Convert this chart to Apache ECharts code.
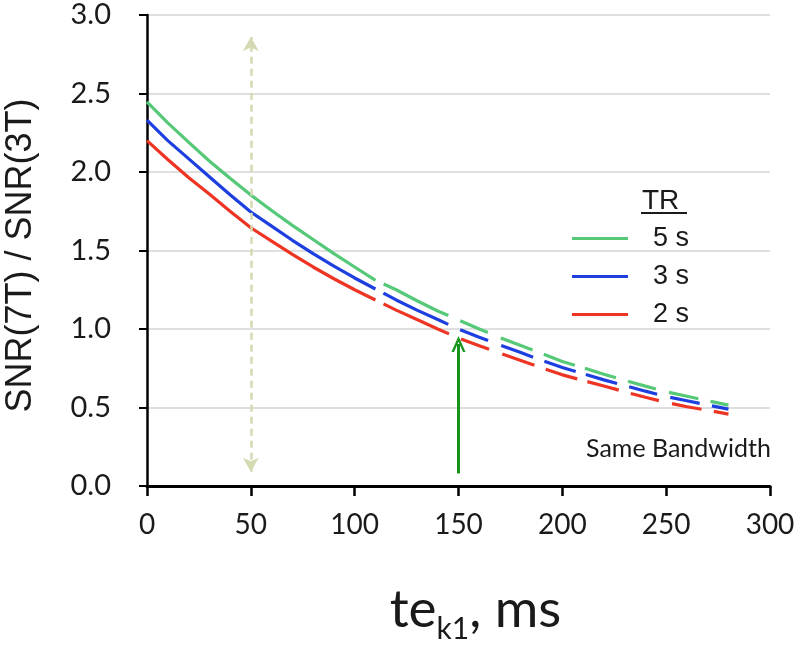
<!DOCTYPE html>
<html><head><meta charset="utf-8">
<script src="https://cdn.jsdelivr.net/npm/echarts@6/dist/echarts.min.js"></script>
<style>html,body{margin:0;padding:0;background:#fff}#c{width:800px;height:647px}</style>
</head><body><div id="c"></div>
<script>
// ---- data ----
const teK1 = [0,10,20,30,40,50,60,70,80,90,100,110,120,130,140,150,160,170,180,190,200,210,220,230,240,250,260,270,280];
const tr5s = [2.446,2.313,2.19,2.07,1.96,1.854,1.755,1.66,1.57,1.48,1.395,1.31,1.25,1.18,1.115,1.057,1.0,0.945,0.895,0.845,0.793,0.753,0.712,0.673,0.636,0.60,0.572,0.543,0.515];
const tr3s = [2.33,2.20,2.085,1.97,1.855,1.745,1.655,1.565,1.48,1.40,1.325,1.255,1.185,1.12,1.06,1.0,0.948,0.898,0.85,0.80,0.755,0.715,0.676,0.64,0.604,0.57,0.543,0.516,0.49];
const tr2s = [2.20,2.08,1.965,1.86,1.75,1.645,1.56,1.475,1.395,1.32,1.25,1.185,1.12,1.06,1.0,0.943,0.893,0.845,0.80,0.753,0.708,0.672,0.637,0.60,0.565,0.532,0.505,0.482,0.458];
const seriesNames = ['5 s','3 s','2 s'];
const xTicks = [0,50,100,150,200,250,300];
const yTicks = [0,0.5,1.0,1.5,2.0,2.5,3.0];
const solidUntil = 110;             // curves are solid up to here, dashed after
const rangeArrow = {x:50, from:0.09, to:2.86};
const bandwidthArrow = {x:150, from:0.08, to:0.905};
const legendTitle = 'TR';
const noteText = 'Same Bandwidth';

// ---- styles ----
const colors = ['#55c978','#1d3fe0','#ee3524'];
const dashPattern = [0,9,72,13,30,14,34,12,33,10.5,32.5,12.5,29,13.5,30,12.5,60];

const curves = [tr5s,tr3s,tr2s];
const series = [];
curves.forEach((vals,i)=>{
  const pts = teK1.map((x,j)=>[x,vals[j]]);
  series.push({name:seriesNames[i], type:'line', showSymbol:false, symbol:'none', color:colors[i],
    data: pts.filter(p=>p[0]<=solidUntil),
    lineStyle:{width:3.2, color:colors[i]}, z:3-i, animation:false});
});
curves.forEach((vals,i)=>{
  const pts = teK1.map((x,j)=>[x,vals[j]]);
  series.push({name:seriesNames[i], type:'line', showSymbol:false, symbol:'none', color:colors[i],
    data: pts.filter(p=>p[0]>=solidUntil),
    lineStyle:{width:3.2, color:colors[i], type:dashPattern, cap:'butt'}, z:3-i, animation:false});
});
const chevron = 'path://M0,14 L7,0 L14,14 L11.5,14 L7,5 L2.5,14 Z';
series.push({name:'annot', type:'line', data:[], silent:true, animation:false,
  markLine:{silent:true, animation:false, label:{show:false},
    data:[
      [{coord:[rangeArrow.x,rangeArrow.from], symbol:'arrow', symbolSize:[12,14],
        lineStyle:{color:'#d5dab2', width:2.5, type:[7,5]}},
       {coord:[rangeArrow.x,rangeArrow.to], symbol:'arrow', symbolSize:[12,14]}],
      [{coord:[bandwidthArrow.x,bandwidthArrow.from], symbol:'none',
        lineStyle:{color:'#17941c', width:3, type:'solid'}},
       {coord:[bandwidthArrow.x,bandwidthArrow.to], symbol:chevron, symbolSize:[14,16]}]
    ]}
});

const chart = echarts.init(document.getElementById('c'), null, {renderer:'canvas'});
chart.setOption({
  backgroundColor:'#fff',
  animation:false,
  grid:{left:147, right:30, top:15, bottom:161, containLabel:false, outerBoundsMode:'none'},
  xAxis:{type:'value', min:xTicks[0], max:xTicks[xTicks.length-1], interval:xTicks[1]-xTicks[0],
    axisLine:{show:true, onZero:false, lineStyle:{color:'#000', width:3}},
    axisTick:{show:true, length:10, lineStyle:{color:'#000', width:2.5}},
    axisLabel:{fontFamily:'Lato', fontSize:28, color:'#1a1a1a', margin:25},
    splitLine:{show:false},
    name:'{m|te}{s|k1}{m|, ms}', nameLocation:'middle', nameGap:90,
    nameTextStyle:{padding:[0,0,0,34], rich:{
      m:{fontFamily:'Lato', fontSize:53, color:'#1a1a1a', lineHeight:60},
      s:{fontFamily:'Lato', fontSize:30, color:'#1a1a1a', padding:[38,0,0,0]}
    }}},
  yAxis:{type:'value', min:yTicks[0], max:yTicks[yTicks.length-1], interval:yTicks[1]-yTicks[0],
    axisLine:{show:true, lineStyle:{color:'#000', width:2.5}},
    axisTick:{show:true, length:8, lineStyle:{color:'#000', width:2}},
    axisLabel:{fontFamily:'Lato', fontSize:29, color:'#1a1a1a', margin:36, padding:[12,0,0,0],
      formatter:v=>v.toFixed(1)},
    splitLine:{lineStyle:{color:'#d4d4d4', width:1.5}},
    name:'SNR(7T) / SNR(3T)', nameLocation:'middle', nameGap:108,
    nameTextStyle:{fontFamily:'Liberation Sans', fontSize:36, color:'#1a1a1a', padding:[0,10,0,0]}},
  legend:{data:seriesNames, orient:'vertical', left:567, top:220, icon:'rect',
    itemWidth:56, itemHeight:3, itemGap:11,
    textStyle:{fontFamily:'Liberation Sans', fontSize:27, color:'#1a1a1a', lineHeight:27, padding:[0,0,0,20]}},
  graphic:[
    {type:'text', left:642, top:187, style:{text:legendTitle, font:'28px "Liberation Sans"', fill:'#1a1a1a'}},
    {type:'line', shape:{x1:641, y1:213, x2:687, y2:213}, style:{stroke:'#1a1a1a', lineWidth:2}},
    {type:'text', left:586, top:436, style:{text:noteText, font:'25px Lato', fill:'#1a1a1a'}}
  ],
  series:series
});
</script></body></html>
